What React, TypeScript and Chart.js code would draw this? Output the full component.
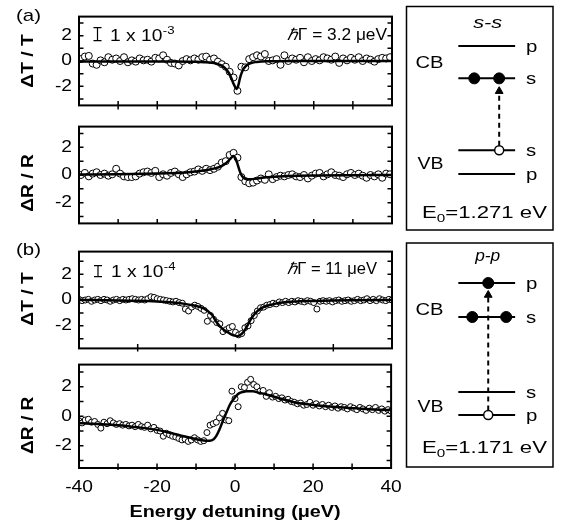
import { useEffect, useRef } from 'react';
import { Chart, registerables } from 'chart.js';

Chart.register(...registerables);

const FONT = '"Liberation Sans", Arial, Helvetica, sans-serif';
const STRETCH = 1.2;

// ---------------- data ----------------
const xTickLabelValues = [-40, -20, 0, 20, 40];
const yTickLabelValues = [-2, 0, 2];
const yTickMarkValues = [-3, -2, -1, 0, 1, 2, 3];
const xTickMarksA = [-30, -20, -10, 0, 10, 20, 30];
const xTickMarksB = [-25, 0, 25];

// detuning scan grids (start, step) in µeV
const scanA = { start: -39.5, step: 1 };
const scanB = { start: -40, step: 0.8 };

// (a) s-s : ΔT/T data points
const ssTransmission = [
  0.15, 0.35, 0.4, -0.2, -0.3, 0.05, -0.1, 0.3, 0.1, 0.2,
  0.0, 0.3, -0.1, 0.05, -0.05, 0.2, 0.05, 0.1, -0.05, 0.25,
  0.2, 0.45, 0.1, -0.15, -0.2, -0.35, 0.0, 0.15, 0.05, 0.2,
  0.1, 0.3, 0.35, 0.1, 0.2, -0.05, -0.25, -0.45, -0.85, -1.3,
  -2.35, -0.45, -0.5, 0.15, 0.3, 0.45, 0.35, 0.55, 0.0, 0.05,
  0.15, -0.3, 0.45, 0.0, 0.2, 0.1, 0.25, -0.1, 0.3, 0.0,
  0.15, 0.05, 0.3, 0.2, 0.1, 0.35, -0.15, 0.2, 0.05, 0.25,
  0.1, 0.3, 0.0, 0.2, 0.1, -0.05, 0.15, 0.25, 0.2, 0.3,
];
// (a) s-s : ΔR/R data points
const ssReflection = [
  0.0, 0.15, -0.1, 0.1, 0.2, 0.0, 0.1, -0.05, 0.05, 0.45,
  0.1, -0.1, -0.15, -0.15, -0.1, 0.1, 0.2, 0.25, 0.15, 0.3,
  -0.15, 0.05, -0.05, 0.15, 0.25, 0.05, -0.15, 0.05, 0.2, 0.25,
  0.4, 0.3, 0.45, 0.35, 0.45, 0.6, 0.9, 1.0, 1.45, 1.6,
  1.25, -0.15, -0.45, -0.6, -0.55, -0.4, -0.25, -0.35, 0.05, -0.3,
  -0.15, -0.05, -0.1, 0.0, 0.05, -0.1, -0.15, 0.0, -0.25, -0.05,
  0.1, 0.15, -0.1, 0.05, 0.2, 0.0, -0.05, -0.15, 0.05, 0.15,
  0.0, 0.1, -0.05, -0.2, 0.0, -0.1, 0.05, -0.2, 0.1, 0.05,
];
// (b) p-p : ΔT/T data points
const ppTransmission = [
  0.05, -0.05, 0.0, 0.05, -0.1, 0.0, 0.05, -0.05, 0.05, 0.0,
  -0.1, 0.0, 0.05, -0.05, 0.05, 0.0, 0.05, 0.1, 0.05, 0.0,
  0.05, 0.0, 0.1, 0.25, 0.2, 0.1, 0.05, 0.0, -0.05, -0.1,
  -0.15, -0.1, -0.2, -0.25, -0.7, -0.85, -0.55, -0.4, -0.5, -0.65,
  -0.8, -1.65, -1.2, -1.5, -1.75, -1.85, -2.45, -2.3, -2.15, -2.05,
  -2.5, -2.7, -2.6, -2.15, -2.0, -1.6, -1.2, -0.85, -0.6, -0.55,
  -0.4, -0.35, -0.25, -0.3, -0.15, -0.2, -0.1, -0.2, -0.1, -0.15,
  -0.05, -0.1, -0.15, -0.05, -0.1, -0.2, -0.7, -0.1, -0.05, -0.1,
  -0.05, -0.15, -0.05, 0.0, -0.1, -0.05, 0.0, -0.1, -0.05, 0.05,
  -0.05, 0.0, 0.1, -0.05, 0.05, -0.05, 0.1, 0.0, -0.05, 0.05,
  0.0,
];
// (b) p-p : ΔR/R data points
const ppReflection = [
  -0.3, -0.45, -0.25, -0.2, -0.4, -0.35, -0.55, -0.8, -0.4, -0.5,
  -0.3, -0.45, -0.55, -0.5, -0.6, -0.55, -0.65, -0.6, -0.7, -0.55,
  -0.7, -0.75, -0.6, -0.85, -0.75, -0.95, -1.0, -1.35, -1.15, -1.25,
  -1.35, -1.4, -1.5, -1.6, -1.55, -1.7, -1.6, -1.45, -1.6, -1.7,
  -1.65, -1.1, -0.6, -0.5, -0.4, -0.1, 0.2, -0.25, -0.3, 1.7,
  1.2, 0.65, 2.0, 1.95, 2.3, 2.5, 2.15, 2.0, 1.7, 1.75,
  1.35, 1.6, 1.3, 1.35, 1.2, 1.25, 1.1, 1.15, 1.0, 0.95,
  0.85, 0.9, 0.75, 0.8, 0.95, 0.75, 0.85, 0.7, 0.8, 0.65,
  0.75, 0.6, 0.7, 0.55, 0.65, 0.6, 0.5, 0.65, 0.55, 0.45,
  0.6, 0.5, 0.4, 0.55, 0.45, 0.6, 0.4, 0.5, 0.35, 0.45,
  0.35,
];

// fitted curves
const ssTransFitX = [-40, -30, -20, -15, -12, -10, -8, -6, -5, -4, -3, -2, -1.5, -1, -0.5, 0, 0.3, 0.7, 1.15, 1.5, 2, 2.5, 3.3, 4, 5, 6, 8, 10, 15, 20, 30, 40];
const ssTransFitY = [-0.03, -0.03, -0.03, -0.04, -0.05, -0.06, -0.09, -0.14, -0.2, -0.3, -0.47, -0.8, -1.05, -1.4, -1.8, -2.1, -2.2, -1.95, -1.35, -1.0, -0.65, -0.45, -0.25, -0.16, -0.09, -0.05, -0.02, -0.01, 0, 0, 0, 0];

const ssReflFitX = [-40, -30, -20, -15, -12, -10, -8, -6, -5, -4, -3, -2, -1.5, -1, -0.5, 0, 0.5, 1, 1.5, 2, 2.5, 3.3, 4, 5, 6, 8, 10, 13, 16, 20, 30, 40];
const ssReflFitY = [0.03, 0.05, 0.1, 0.15, 0.2, 0.26, 0.33, 0.43, 0.5, 0.58, 0.75, 0.97, 1.12, 1.27, 1.37, 1.2, 0.8, 0.35, 0.0, -0.18, -0.27, -0.3, -0.3, -0.27, -0.23, -0.17, -0.12, -0.08, -0.05, -0.03, -0.01, 0];

const ppTransFitX = [-40, -30, -25, -20, -16, -13, -11, -9, -8, -7, -6, -5, -4, -3, -2, -1, 0, 0.5, 1, 2, 3, 4, 5, 6, 7, 8, 10, 12, 15, 20, 25, 30, 40];
const ppTransFitY = [0, -0.03, -0.06, -0.12, -0.2, -0.3, -0.4, -0.55, -0.68, -0.88, -1.15, -1.65, -2.05, -2.3, -2.5, -2.68, -2.78, -2.8, -2.75, -2.5, -2.0, -1.45, -1.05, -0.75, -0.57, -0.45, -0.3, -0.2, -0.12, -0.07, -0.04, -0.02, 0];

const ppReflFitX = [-40, -35, -30, -25, -20, -17, -14, -11, -9, -7.5, -6.5, -5.5, -4.8, -4, -3.1, -2.2, -1.4, -0.5, 0.3, 1, 2, 3, 4.6, 6, 8, 10, 12, 14, 16.5, 20.7, 25, 31, 36, 40];
const ppReflFitY = [-0.46, -0.52, -0.6, -0.74, -0.92, -1.1, -1.3, -1.48, -1.6, -1.65, -1.65, -1.55, -1.33, -0.9, -0.3, 0.25, 0.75, 1.12, 1.38, 1.55, 1.65, 1.69, 1.69, 1.6, 1.48, 1.33, 1.17, 1.03, 0.88, 0.75, 0.64, 0.54, 0.46, 0.42];

// level schemes (x: 0..147 across box, y: distance from box top)
const levelSpan = [52, 109];
const ssLevels = [
  { y: 40, label: 'p' },
  { y: 73, label: 's' },
  { y: 146, label: 's' },
  { y: 170, label: 'p' },
];
const ssElectrons = [{ x: 68, y: 73 }, { x: 93, y: 73 }];
const ssHoles = [{ x: 93, y: 146 }];
const ssArrow = [{ x: 93, y: 141.5 }, { x: 93, y: 86 }];

const ppLevels = [
  { y: 40, label: 'p' },
  { y: 74, label: 's' },
  { y: 149, label: 's' },
  { y: 172, label: 'p' },
];
const ppElectrons = [{ x: 82, y: 40 }, { x: 66, y: 74 }, { x: 100, y: 74 }];
const ppHoles = [{ x: 82, y: 172 }];
const ppArrow = [{ x: 82, y: 167.5 }, { x: 82, y: 52 }];

// ---------------- helpers ----------------
function toPoints(scan: { start: number; step: number }, values: number[]) {
  return values.map((v, i) => ({ x: scan.start + i * scan.step, y: v }));
}
function zipXY(xs: number[], ys: number[]) {
  return xs.map((x, i) => ({ x, y: ys[i] }));
}

function patchStretch(ctx: any, s: number) {
  if (ctx.__stretched) return;
  ctx.__stretched = true;
  const orig = ctx.fillText.bind(ctx);
  ctx.fillText = (text: string, x: number, y: number, maxWidth?: number) => {
    ctx.save();
    ctx.translate(x, y);
    ctx.scale(s, 1);
    if (maxWidth !== undefined && maxWidth !== null) orig(text, 0, 0, maxWidth / s);
    else orig(text, 0, 0);
    ctx.restore();
  };
}

type Run = { t: string; font: string; dy?: number };
function drawRuns(ctx: any, runs: Run[], x: number, y: number, align: string, width?: number, stretch = 1) {
  ctx.save();
  ctx.textBaseline = 'alphabetic';
  ctx.textAlign = 'left';
  let total = 0;
  const ws = runs.map((r) => {
    ctx.font = r.font;
    const w = ctx.measureText(r.t).width;
    total += w;
    return w;
  });
  const sx = width ? width / total : stretch;
  ctx.translate(x, y);
  ctx.scale(sx, 1);
  let cx = align === 'center' ? -total / 2 : align === 'right' ? -total : 0;
  runs.forEach((r, i) => {
    ctx.font = r.font;
    ctx.fillText(r.t, cx, r.dy || 0);
    cx += ws[i];
  });
  ctx.restore();
}

function makePanelDeco(cfg: any) {
  return {
    id: 'panelDeco',
    afterDraw(chart: any) {
      const { ctx, chartArea: a } = chart;
      const xs = chart.scales.x;
      const ys = chart.scales.y;
      ctx.save();
      ctx.strokeStyle = '#000';
      ctx.fillStyle = '#000';
      ctx.lineWidth = 1.5;
      ctx.beginPath();
      for (const v of yTickMarkValues) {
        const py = ys.getPixelForValue(v);
        ctx.moveTo(a.left, py);
        ctx.lineTo(a.left + 4.5, py);
        ctx.moveTo(a.right, py);
        ctx.lineTo(a.right - 4.5, py);
      }
      for (const v of cfg.bottomTicks) {
        const px = xs.getPixelForValue(v);
        ctx.moveTo(px, a.bottom + cfg.tickDown);
        ctx.lineTo(px, a.bottom - cfg.tickUp);
      }
      ctx.stroke();
      ctx.lineWidth = 2;
      ctx.strokeRect(a.left, a.top, a.right - a.left, a.bottom - a.top);

      // y title
      ctx.save();
      ctx.font = `bold 16px ${FONT}`;
      ctx.textAlign = 'center';
      ctx.textBaseline = 'middle';
      ctx.translate(29, (a.top + a.bottom) / 2 + cfg.titleDy);
      ctx.rotate(-Math.PI / 2);
      ctx.fillText(cfg.title, 0, 0);
      ctx.restore();

      ctx.textAlign = 'left';
      ctx.textBaseline = 'alphabetic';
      if (cfg.letter) {
        ctx.font = `17px ${FONT}`;
        ctx.fillText(cfg.letter.text, cfg.letter.x, cfg.letter.y);
      }
      if (cfg.scaleNote) {
        const n = cfg.scaleNote;
        const bx = a.left + n.barDx;
        const bt = a.top + n.barTop;
        const bb = a.top + n.barBottom;
        ctx.lineWidth = 1.2;
        ctx.beginPath();
        ctx.moveTo(bx, bt);
        ctx.lineTo(bx, bb);
        ctx.moveTo(bx - 4, bt);
        ctx.lineTo(bx + 4, bt);
        ctx.moveTo(bx - 4, bb);
        ctx.lineTo(bx + 4, bb);
        ctx.stroke();
        const tx = a.left + n.textDx;
        const base = a.top + n.baseline;
        ctx.font = `16px ${FONT}`;
        ctx.fillText('1 x 10', tx, base);
        const w = ctx.measureText('1 x 10').width * STRETCH;
        ctx.font = `11px ${FONT}`;
        ctx.fillText(n.exponent, tx + w + 0.5, base - 7);
      }
      if (cfg.widthNote) {
        const n = cfg.widthNote;
        const hx = a.left + n.dx;
        const base = a.top + n.baseline;
        const runs = [
          { t: 'ℏ', font: `italic 16px ${FONT}` },
          { t: `Γ = ${n.value} μeV`, font: `16px ${FONT}` },
        ];
        let total = 0;
        const ws = runs.map((r) => {
          ctx.font = r.font;
          const w = ctx.measureText(r.t).width;
          total += w;
          return w;
        });
        const k = n.width / (total * STRETCH);
        ctx.save();
        ctx.translate(hx, base);
        ctx.scale(k, 1);
        let cx = 0;
        runs.forEach((r, i) => {
          ctx.font = r.font;
          ctx.fillText(r.t, cx, 0);
          cx += ws[i] * STRETCH;
        });
        ctx.restore();
      }
      ctx.restore();
    },
  };
}

// ---------------- components ----------------
const CANVAS_W = 410;
const PLOT_RIGHT = 392;

function Panel(p: any) {
  const ref = useRef<HTMLCanvasElement>(null);
  useEffect(() => {
    const canvas = ref.current as HTMLCanvasElement;
    const ctx = canvas.getContext('2d');
    patchStretch(ctx, STRETCH);
    const xScale: any = {
      type: 'linear',
      min: -40,
      max: 40,
      display: !!p.xAxis,
      grid: { display: false, drawTicks: false },
      border: { display: false },
      ticks: {
        font: { family: FONT, size: 16 },
        color: '#000',
        padding: 10,
        maxRotation: 0,
        autoSkip: false,
      },
      title: {
        display: true,
        text: 'Energy detuning (μeV)',
        font: { family: FONT, size: 16.5, weight: 'bold' },
        color: '#000',
        padding: { top: 0, bottom: 7 },
      },
    };
    if (p.xAxis) {
      xScale.afterBuildTicks = (s: any) => {
        s.ticks = xTickLabelValues.map((v) => ({ value: v }));
      };
      xScale.afterFit = (s: any) => {
        s.height = 61;
      };
    }
    const chart = new Chart(canvas, {
      type: 'scatter',
      data: {
        datasets: [
          {
            data: p.fit,
            showLine: true,
            borderColor: '#000',
            borderWidth: 2.5,
            pointRadius: 0,
            cubicInterpolationMode: 'monotone',
            fill: false,
          } as any,
          {
            data: p.points,
            showLine: false,
            pointRadius: p.radius,
            pointBackgroundColor: '#fff',
            pointBorderColor: '#000',
            pointBorderWidth: 1,
          },
        ],
      },
      options: {
        animation: false,
        responsive: false,
        events: [],
        layout: {
          padding: { left: 0, right: CANVAS_W - PLOT_RIGHT, top: p.padTop, bottom: p.xAxis ? 0 : p.padBottom },
        },
        plugins: { legend: { display: false }, tooltip: { enabled: false } },
        scales: {
          x: xScale,
          y: {
            type: 'linear',
            min: p.yMin,
            max: p.yMax,
            grid: { display: false, drawTicks: false },
            border: { display: false },
            afterBuildTicks: (s: any) => {
              s.ticks = yTickLabelValues.map((v) => ({ value: v }));
            },
            afterFit: (s: any) => {
              s.width = 79;
            },
            ticks: { font: { family: FONT, size: 16 }, color: '#000', padding: 7 },
          },
        },
      } as any,
      plugins: [makePanelDeco(p.deco)],
    });
    return () => chart.destroy();
  }, []);
  return (
    <canvas
      ref={ref}
      width={CANVAS_W}
      height={p.height}
      style={{ position: 'absolute', left: 0, top: p.top, width: CANVAS_W, height: p.height }}
    />
  );
}

function makeSchemeDeco(cfg: any) {
  return {
    id: 'schemeDeco',
    afterDraw(chart: any) {
      const { ctx, chartArea: a } = chart;
      const xs = chart.scales.x;
      const ys = chart.scales.y;
      const X = (v: number) => xs.getPixelForValue(v);
      const Y = (v: number) => ys.getPixelForValue(v);
      ctx.save();
      ctx.strokeStyle = '#000';
      ctx.fillStyle = '#000';
      ctx.lineWidth = 1.5;
      ctx.strokeRect(a.left, a.top, a.right - a.left, a.bottom - a.top);
      const f = (s: number, extra = '') => `${extra}${s}px ${FONT}`;
      drawRuns(ctx, [{ t: cfg.title, font: f(16, 'italic ') }], X(81.5), Y(cfg.titleY), 'center', cfg.titleW);
      drawRuns(ctx, [{ t: 'CB', font: f(16) }], X(9), Y(cfg.cbY), 'left', 28);
      drawRuns(ctx, [{ t: 'VB', font: f(16) }], X(11), Y(cfg.vbY), 'left', 26);
      for (const l of cfg.levels) {
        drawRuns(ctx, [{ t: l.label, font: f(17) }], X(120), Y(l.y + 6), 'left', undefined, 1.2);
      }
      drawRuns(
        ctx,
        [
          { t: 'E', font: f(16) },
          { t: '0', font: f(11), dy: 4 },
          { t: `=${cfg.energy} eV`, font: f(16) },
        ],
        X(78.2),
        Y(cfg.energyY),
        'center',
        125,
      );
      ctx.restore();
    },
  };
}

function Scheme(p: any) {
  const ref = useRef<HTMLCanvasElement>(null);
  useEffect(() => {
    const canvas = ref.current as HTMLCanvasElement;
    const levelSets = p.levels.map((l: any) => ({
      data: [
        { x: levelSpan[0], y: l.y },
        { x: levelSpan[1], y: l.y },
      ],
      showLine: true,
      borderColor: '#000',
      borderWidth: 2,
      pointRadius: 0,
    }));
    const chart = new Chart(canvas, {
      type: 'scatter',
      data: {
        datasets: [
          {
            data: p.holes,
            pointRadius: 4.5,
            pointBackgroundColor: '#fff',
            pointBorderColor: '#000',
            pointBorderWidth: 1.5,
          },
          {
            data: p.electrons,
            pointRadius: 5.5,
            pointBackgroundColor: '#000',
            pointBorderColor: '#000',
            pointBorderWidth: 1,
          },
          {
            data: p.arrow,
            showLine: true,
            borderColor: '#000',
            borderWidth: 2,
            borderDash: [5, 4],
            pointRadius: [0, 4.5],
            pointStyle: 'triangle',
            pointBackgroundColor: '#000',
            pointBorderColor: '#000',
            pointBorderWidth: 1,
          } as any,
          ...levelSets,
        ],
      },
      options: {
        animation: false,
        responsive: false,
        events: [],
        layout: { padding: p.padding },
        plugins: { legend: { display: false }, tooltip: { enabled: false } },
        scales: {
          x: { type: 'linear', display: false, min: 0, max: 147 },
          y: { type: 'linear', display: false, min: 0, max: p.boxH, reverse: true },
        },
      } as any,
      plugins: [makeSchemeDeco(p.deco)],
    });
    return () => chart.destroy();
  }, []);
  return (
    <canvas
      ref={ref}
      width={167}
      height={240}
      style={{ position: 'absolute', left: 400, top: p.top, width: 167, height: 240 }}
    />
  );
}

export default function App() {
  return (
    <div style={{ position: 'fixed', left: 0, top: 0, width: 567, height: 529, background: '#fff', overflow: 'hidden' }}>
      <Panel
        top={0}
        height={122}
        padTop={4}
        padBottom={4}
        yMin={-3.5}
        yMax={3.5}
        radius={3.5}
        points={toPoints(scanA, ssTransmission)}
        fit={zipXY(ssTransFitX, ssTransFitY)}
        deco={{
          title: 'ΔT / T',
          titleDy: 0,
          bottomTicks: xTickMarksA,
          tickUp: 4.5,
          tickDown: 4,
          letter: { text: '(a)', x: 16, y: 21 },
          scaleNote: { exponent: '-3', barDx: 18.5, barTop: 11, barBottom: 24, textDx: 31, baseline: 24 },
          widthNote: { value: '3.2', dx: 208, baseline: 23, width: 100 },
        }}
      />
      <Panel
        top={110}
        height={130}
        padTop={8}
        padBottom={11}
        yMin={-3.5}
        yMax={3.5}
        radius={3.5}
        points={toPoints(scanA, ssReflection)}
        fit={zipXY(ssReflFitX, ssReflFitY)}
        deco={{ title: 'ΔR / R', titleDy: 8, bottomTicks: xTickMarksA, tickUp: 4.5, tickDown: 0 }}
      />
      <Panel
        top={235}
        height={130}
        padTop={8}
        padBottom={9}
        yMin={-3.75}
        yMax={3.75}
        radius={3}
        points={toPoints(scanB, ppTransmission)}
        fit={zipXY(ppTransFitX, ppTransFitY)}
        deco={{
          title: 'ΔT / T',
          titleDy: -1,
          bottomTicks: xTickMarksB,
          tickUp: 4.5,
          tickDown: 3,
          letter: { text: '(b)', x: 16, y: 19.5 },
          scaleNote: { exponent: '-4', barDx: 19, barTop: 14, barBottom: 25, textDx: 32, baseline: 25 },
          widthNote: { value: '11', dx: 208, baseline: 22, width: 90 },
        }}
      />
      <Panel
        top={348}
        height={181}
        padTop={8}
        xAxis
        yMin={-3.5}
        yMax={3.5}
        radius={3}
        points={toPoints(scanB, ppReflection)}
        fit={zipXY(ppReflFitX, ppReflFitY)}
        deco={{ title: 'ΔR / R', titleDy: 9, bottomTicks: xTickMarksA, tickUp: 4.5, tickDown: 2 }}
      />
      <Scheme
        top={0}
        boxH={227}
        padding={{ left: 6, right: 14, top: 3, bottom: 10 }}
        levels={ssLevels}
        electrons={ssElectrons}
        holes={ssHoles}
        arrow={ssArrow}
        deco={{ title: 's-s', titleY: 22, titleW: 29, cbY: 62, vbY: 165, levels: ssLevels, energy: '1.271', energyY: 215 }}
      />
      <Scheme
        top={235}
        boxH={224}
        padding={{ left: 6, right: 14, top: 8, bottom: 8 }}
        levels={ppLevels}
        electrons={ppElectrons}
        holes={ppHoles}
        arrow={ppArrow}
        deco={{ title: 'p-p', titleY: 17.5, titleW: 25, cbY: 72, vbY: 168.7, levels: ppLevels, energy: '1.171', energyY: 210 }}
      />
    </div>
  );
}
